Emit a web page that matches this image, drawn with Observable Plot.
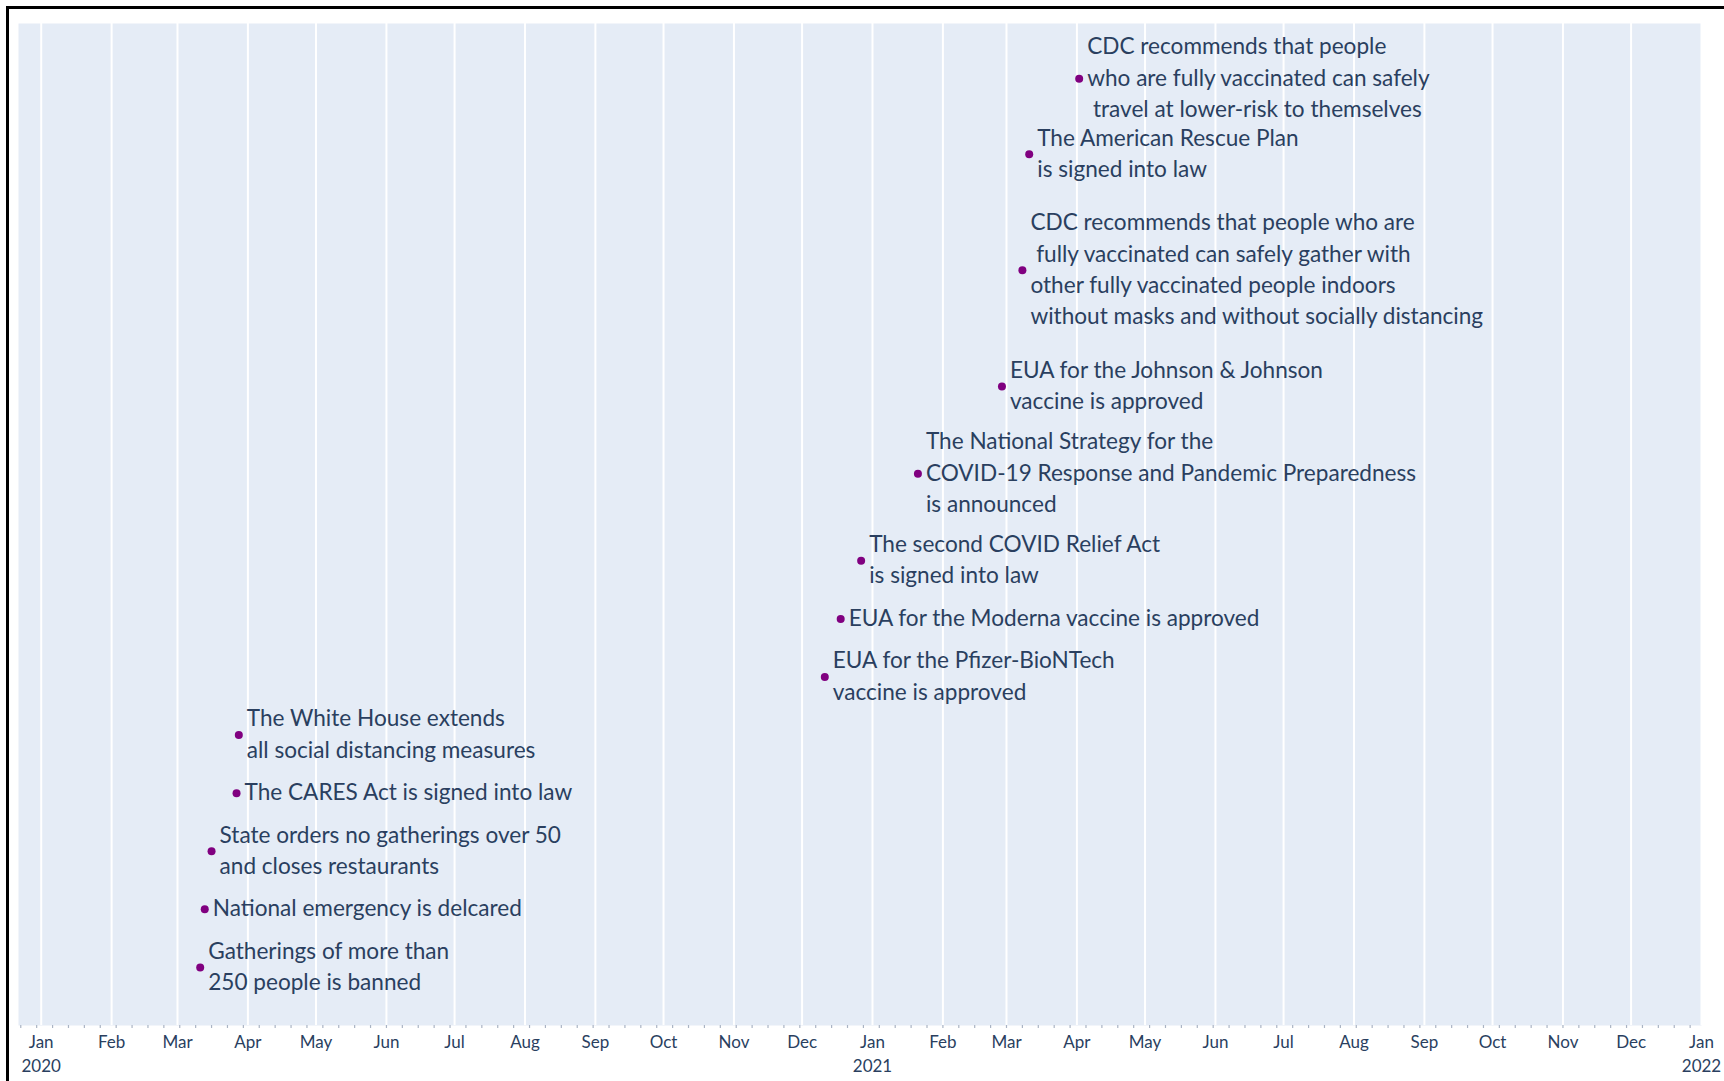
<!DOCTYPE html>
<html>
<head>
<meta charset="utf-8">
<script src="https://cdn.jsdelivr.net/npm/d3@7"></script>
<script src="https://cdn.jsdelivr.net/npm/@observablehq/plot@0.6"></script>
<style>
  html, body { margin: 0; padding: 0; background: #fff; }
  #wrap { position: relative; width: 1724px; height: 1081px; overflow: hidden; }
  #border { position: absolute; left: 6px; top: 6px; width: 1724px; height: 1081px;
            border-top: 3px solid #000; border-left: 3px solid #000; pointer-events: none; }
  #chart { position: absolute; left: 0; top: 0; }
</style>
</head>
<body>
<div id="wrap"><div id="chart"></div><div id="border"></div></div>
<script>
// Event dates
const eventDates = [
  "2020-03-11", "2020-03-13", "2020-03-16", "2020-03-27", "2020-03-28",
  "2020-12-11", "2020-12-18", "2020-12-27", "2021-01-21", "2021-02-27",
  "2021-03-08", "2021-03-11", "2021-04-02"
];
// Event descriptions
const eventLabels = [
  "Gatherings of more than\n250 people is banned",
  "National emergency is delcared",
  "State orders no gatherings over 50\nand closes restaurants",
  "The CARES Act is signed into law",
  "The White House extends\nall social distancing measures",
  "EUA for the Pfizer-BioNTech\nvaccine is approved",
  "EUA for the Moderna vaccine is approved",
  "The second COVID Relief Act\nis signed into law",
  "The National Strategy for the\nCOVID-19 Response and Pandemic Preparedness\nis announced",
  "EUA for the Johnson & Johnson\nvaccine is approved",
  "CDC recommends that people who are\n\u00a0fully vaccinated can safely gather with\nother fully vaccinated people indoors\nwithout masks and without socially distancing",
  "The American Rescue Plan\nis signed into law",
  "CDC recommends that people\nwho are fully vaccinated can safely\n\u00a0travel at lower-risk to themselves"
];
// Vertical placement of each event
const eventLevels = [1, 2, 3, 4, 5, 6, 7, 8, 9.5, 11, 13, 15, 16.3];

// Axis
const monthNames = ["Jan","Feb","Mar","Apr","May","Jun","Jul","Aug","Sep","Oct","Nov","Dec"];
const xStart = "2019-12-22";
const xEnd = "2022-01-01";

const events = eventDates.map((d, i) => ({
  date: new Date(d + "T00:00:00Z"),
  label: eventLabels[i],
  level: eventLevels[i]
}));

const domain = [new Date(xStart + "T00:00:00Z"), new Date(xEnd + "T00:00:00Z")];
const monthTicks = d3.utcMonth.range(domain[0], new Date(domain[1].getTime() + 1));
const weekTicks = d3.utcMonday.range(domain[0], domain[1]);
const fmt = d => {
  const m = monthNames[d.getUTCMonth()];
  return d.getUTCMonth() === 0 ? m + "\n" + d.getUTCFullYear() : m;
};

const chart = Plot.plot({
  width: 1724,
  height: 1081,
  marginLeft: 18,
  marginRight: 23,
  marginTop: 23,
  marginBottom: 56,
  style: { fontFamily: "Lato, 'Noto Sans', sans-serif", background: "transparent", color: "#2a3f5f" },
  x: { type: "utc", domain, axis: null },
  y: { domain: [0, 17.25], axis: null },
  marks: [
    Plot.frame({ fill: "#E5ECF6", stroke: null }),
    Plot.gridX(monthTicks, { stroke: "#ffffff", strokeOpacity: 1, strokeWidth: 2 }),
    Plot.axisX(weekTicks, { tickSize: 3, tickFormat: () => "", stroke: "#aab4c4", strokeWidth: 1.2 }),
    Plot.axisX(monthTicks, {
      tickSize: 0, tickPadding: 5, tickFormat: fmt,
      fontSize: 17, lineHeight: 1.42, fill: "#2a3f5f"
    }),
    Plot.dot(events, { x: "date", y: "level", r: 4, fill: "#800080", stroke: null }),
    Plot.text(events, {
      x: "date", y: "level", text: "label",
      textAnchor: "start", lineAnchor: "middle", dx: 8, dy: -3,
      fontSize: 22.6, lineHeight: 1.385, fill: "#2a3f5f"
    })
  ]
});
document.getElementById("chart").appendChild(chart);
</script>
</body>
</html>
